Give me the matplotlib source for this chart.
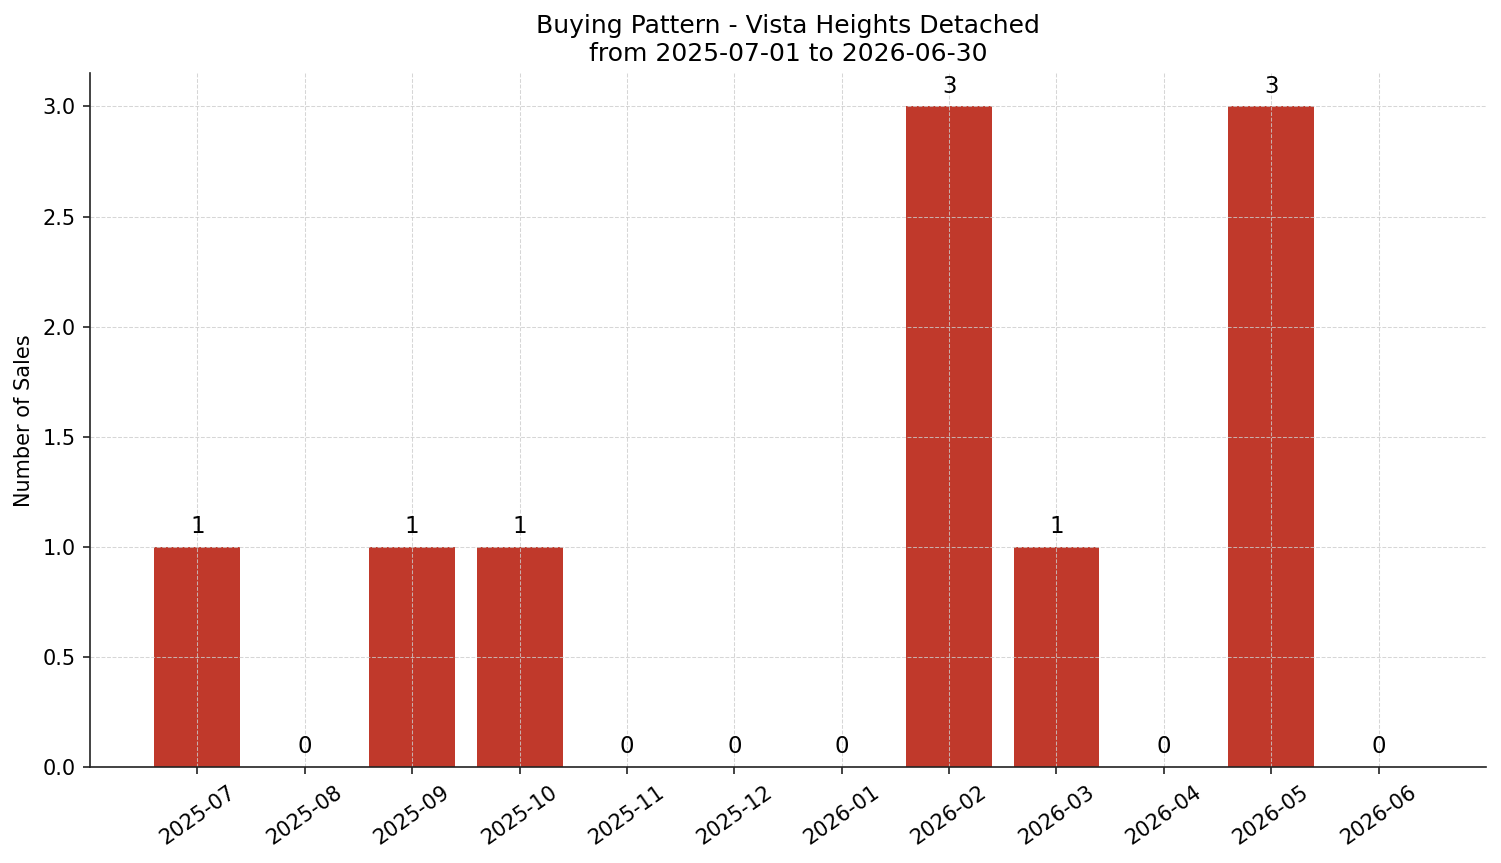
import numpy as np
import matplotlib.pyplot as plt

months = ['2025-07', '2025-08', '2025-09', '2025-10', '2025-11', '2025-12',
          '2026-01', '2026-02', '2026-03', '2026-04', '2026-05', '2026-06']
sales = [1, 0, 1, 1, 0, 0, 0, 3, 1, 0, 3, 0]

fig, ax = plt.subplots(figsize=(1501 / 150, 863 / 150), dpi=150)
x = np.arange(len(months))
ax.bar(x, sales, width=0.8, color='#c0392b')

for xi, v in zip(x, sales):
    ax.text(xi, v + 0.04, str(v), ha='center', va='bottom', fontsize=11)

ax.set_xticks(x)
ax.set_xticklabels(months, rotation=35)
ax.set_xlim(-1, 12)
ax.set_ylim(0, 3.15)
ax.set_ylabel('Number of Sales')
ax.set_title('Buying Pattern - Vista Heights Detached\nfrom 2025-07-01 to 2026-06-30', fontsize=12)
ax.grid(True, linestyle='--', linewidth=0.5, color='#cccccc', alpha=0.8)
ax.spines['top'].set_visible(False)
ax.spines['right'].set_visible(False)
ax.spines['left'].set_color('#222222')
ax.spines['bottom'].set_color('#222222')
ax.tick_params(color='#222222')

plt.subplots_adjust(left=0.06, right=0.99, top=0.915, bottom=0.111)
plt.savefig('out.png', dpi=150)
